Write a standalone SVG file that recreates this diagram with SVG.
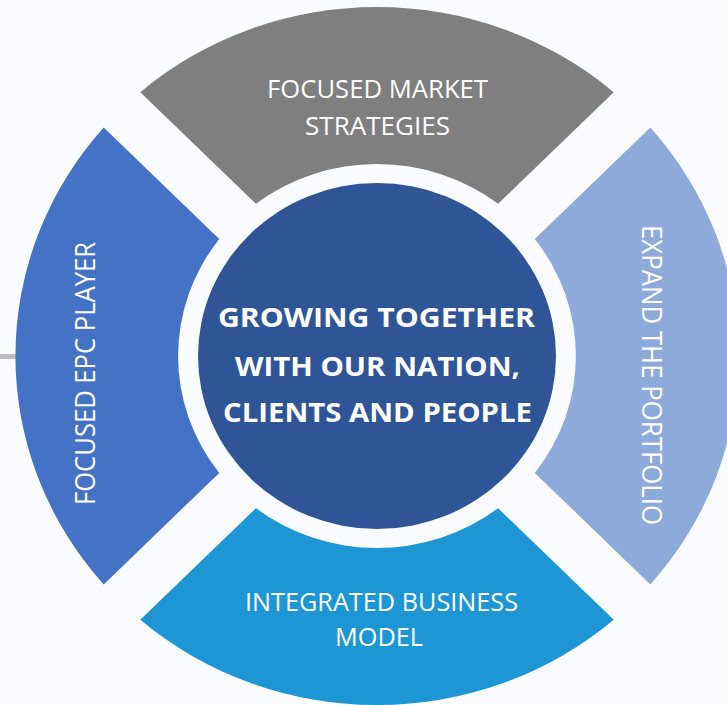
<svg xmlns="http://www.w3.org/2000/svg" width="727" height="705" viewBox="0 0 727 705">
<style>
.lbl{font-family:"Open Sans","Noto Sans",sans-serif;font-size:26px;fill:#ffffff;text-anchor:middle}
.ctr{font-family:"Open Sans","Noto Sans",sans-serif;font-size:27px;font-weight:bold;fill:#ffffff;text-anchor:middle}
</style>
<rect width="727" height="705" fill="#fbfcff"/>
<rect x="0" y="354" width="16" height="5" fill="#bfbfbf"/>
<g id="connectors"></g>
<g id="segments" transform="translate(377 356) scale(1.036 1)">
<path id="seg-top" d="M -228.5 -263.8 A 349 349 0 0 1 228.5 -263.8 L 116.9 -152.3 A 192 192 0 0 0 -116.9 -152.3 Z" fill="#7f7f7f"/>
<path id="seg-right" d="M 263.8 -228.5 A 349 349 0 0 1 263.8 228.5 L 152.3 116.9 A 192 192 0 0 0 152.3 -116.9 Z" fill="#8eaadb"/>
<path id="seg-bottom" d="M 228.5 263.8 A 349 349 0 0 1 -228.5 263.8 L -116.9 152.3 A 192 192 0 0 0 116.9 152.3 Z" fill="#1e96d3"/>
<path id="seg-left" d="M -263.8 228.5 A 349 349 0 0 1 -263.8 -228.5 L -152.3 -116.9 A 192 192 0 0 0 -152.3 116.9 Z" fill="#4472c4"/>
</g>
<g id="node-top">
<text class="lbl" x="377.5" y="98" textLength="221" lengthAdjust="spacingAndGlyphs">FOCUSED MARKET</text>
<text class="lbl" x="377.5" y="135" textLength="145" lengthAdjust="spacingAndGlyphs">STRATEGIES</text>
</g>
<g id="node-bottom">
<text class="lbl" x="381.5" y="611" textLength="273" lengthAdjust="spacingAndGlyphs">INTEGRATED BUSINESS</text>
<text class="lbl" x="379" y="646" textLength="88" lengthAdjust="spacingAndGlyphs">MODEL</text>
</g>
<g id="node-left">
<text class="lbl" transform="translate(95 373.5) rotate(-90)" x="0" y="0" textLength="263" lengthAdjust="spacingAndGlyphs" style="font-size:27px">FOCUSED EPC PLAYER</text>
</g>
<g id="node-right">
<text class="lbl" transform="translate(642 375) rotate(90)" x="0" y="0" textLength="300" lengthAdjust="spacingAndGlyphs" style="font-size:27px">EXPAND THE PORTFOLIO</text>
</g>
<g id="node-center">
<ellipse cx="377" cy="356" rx="179" ry="173" fill="#2f5597"/>
<text class="ctr" x="376.5" y="327" textLength="317" lengthAdjust="spacingAndGlyphs">GROWING TOGETHER</text>
<text class="ctr" x="377.5" y="376" textLength="285" lengthAdjust="spacingAndGlyphs">WITH OUR NATION,</text>
<text class="ctr" x="377.5" y="422" textLength="309" lengthAdjust="spacingAndGlyphs">CLIENTS AND PEOPLE</text>
</g>
</svg>
